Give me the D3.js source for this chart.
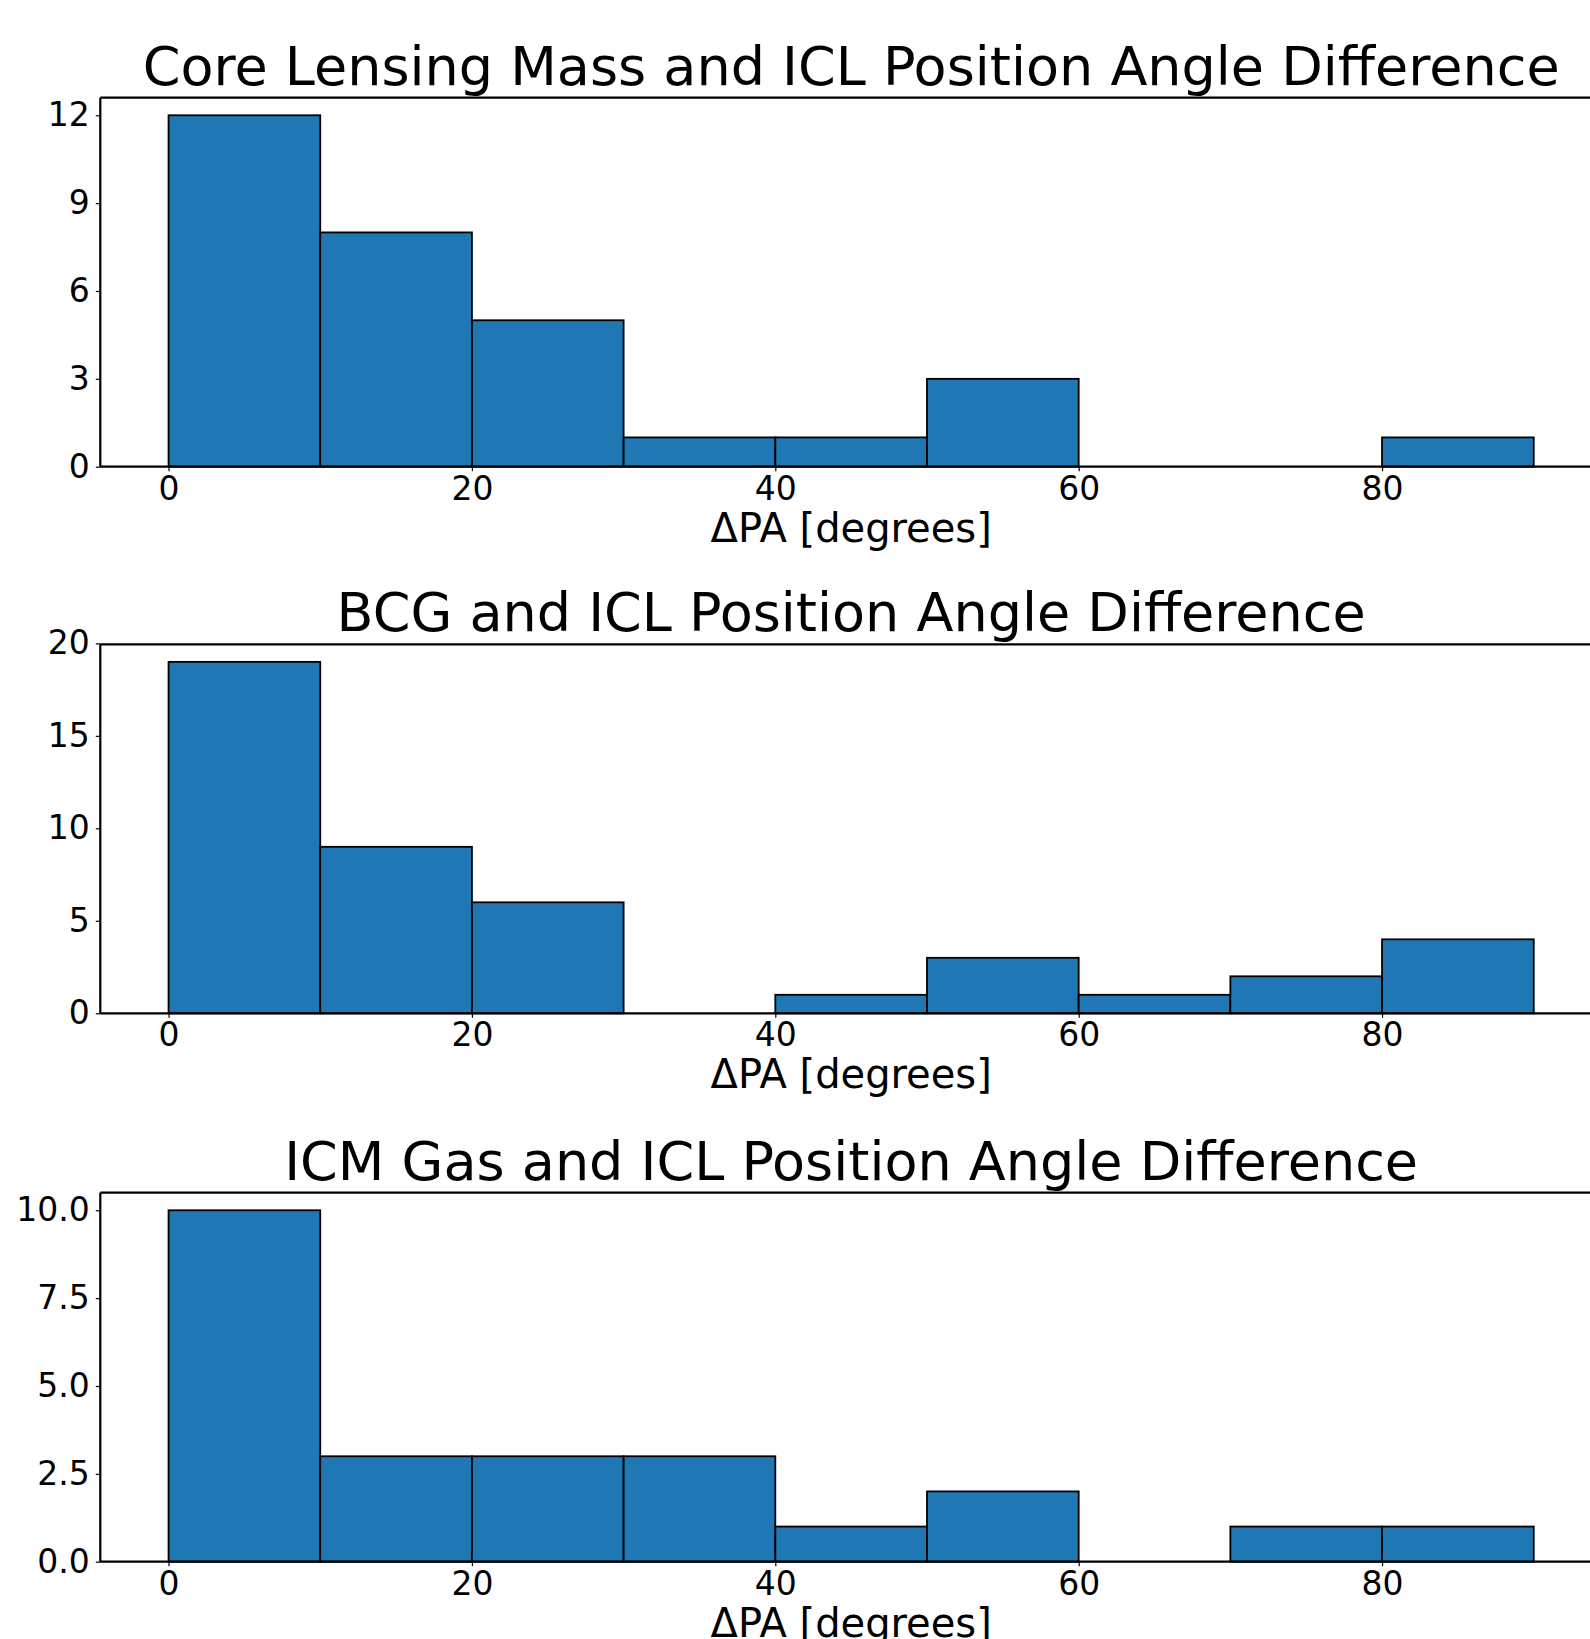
<!DOCTYPE html>
<html>
<head>
<meta charset="utf-8">
<script src="https://cdn.jsdelivr.net/npm/d3@7"></script>
<style>
  html, body { margin: 0; padding: 0; background: #fff; overflow: hidden; }
  svg { display: block; }
  text { font-family: "DejaVu Sans", sans-serif; fill: #000; }
</style>
</head>
<body>
<script>
// Histogram bins of position-angle differences (degrees)
const binEdges = [0, 10, 20, 30, 40, 50, 60, 70, 80, 90];

const titles = [
  "Core Lensing Mass and ICL Position Angle Difference",
  "BCG and ICL Position Angle Difference",
  "ICM Gas and ICL Position Angle Difference"
];

// counts per 10-degree bin
const coreLensingCounts = [12, 8, 5, 1, 1, 3, 0, 0, 1];
const bcgCounts = [19, 9, 6, 0, 1, 3, 1, 2, 4];
const icmGasCounts = [10, 3, 3, 3, 1, 2, 0, 1, 1];

const xTicks = [0, 20, 40, 60, 80];
const yTicksCore = [0, 3, 6, 9, 12];
const yTicksBcg = [0, 5, 10, 15, 20];
const yTicksIcm = [0, 2.5, 5, 7.5, 10];
const yTickFormats = [d3.format("d"), d3.format("d"), d3.format(".1f")];

const xLabel = "ΔPA [degrees]";

const W = 1590, H = 1639;
const svg = d3.select("body").append("svg").attr("width", W).attr("height", H);

const panels = [
  { title: titles[0], counts: coreLensingCounts, yTicks: yTicksCore, top: 97.7 },
  { title: titles[1], counts: bcgCounts, yTicks: yTicksBcg, top: 644.3 },
  { title: titles[2], counts: icmGasCounts, yTicks: yTicksIcm, top: 1192.7 }
];

const plotH = 369;
const left = 100.3, right = 1602;
const fill = "#1f77b4";

panels.forEach((p, i) => {
  const bottom = p.top + plotH;
  const xMin = binEdges[0], xMax = binEdges[binEdges.length - 1];
  const pad = (xMax - xMin) * 0.05;
  const x = d3.scaleLinear().domain([xMin - pad, xMax + pad]).range([left, right]);
  const yMax = d3.max(p.counts) * 1.05;
  const y = d3.scaleLinear().domain([0, yMax]).range([bottom, p.top]);

  const g = svg.append("g");

  const bins = p.counts.map((c, k) => ({ x0: binEdges[k], x1: binEdges[k + 1], n: c }));

  g.selectAll("rect.bar").data(bins.filter(b => b.n > 0)).join("rect")
    .attr("class", "bar")
    .attr("x", d => x(d.x0))
    .attr("width", d => x(d.x1) - x(d.x0))
    .attr("y", d => y(d.n))
    .attr("height", d => y(0) - y(d.n))
    .attr("fill", fill)
    .attr("stroke", "#000")
    .attr("stroke-width", 1.8);

  // x axis
  const xAxis = d3.axisBottom(x).tickValues(xTicks).tickSize(4.5).tickPadding(5).tickFormat(d3.format("d"));
  const gx = g.append("g").attr("transform", `translate(0,${bottom})`).call(xAxis);
  gx.select(".domain").remove();
  gx.selectAll(".tick line").attr("stroke", "#000").attr("stroke-width", 1.2);
  gx.selectAll(".tick text").attr("font-size", 33).style("font-family", "DejaVu Sans");

  // y axis
  const yAxis = d3.axisLeft(y).tickValues(p.yTicks).tickSize(4.5).tickPadding(6).tickFormat(yTickFormats[i]);
  const gy = g.append("g").attr("transform", `translate(${left},0)`).call(yAxis);
  gy.select(".domain").remove();
  gy.selectAll(".tick line").attr("stroke", "#000").attr("stroke-width", 1.2);
  gy.selectAll(".tick text").attr("font-size", 33).style("font-family", "DejaVu Sans");

  // spines
  const sp = g.append("g").attr("stroke", "#000").attr("stroke-width", 2.2).attr("fill", "none");
  sp.append("line").attr("x1", left).attr("x2", right).attr("y1", p.top).attr("y2", p.top);
  sp.append("line").attr("x1", left).attr("x2", right).attr("y1", bottom).attr("y2", bottom);
  sp.append("line").attr("x1", left).attr("x2", left).attr("y1", p.top).attr("y2", bottom);
  sp.append("line").attr("x1", right).attr("x2", right).attr("y1", p.top).attr("y2", bottom);

  const cx = (left + right) / 2;
  g.append("text").attr("x", cx).attr("y", p.top - 13)
    .attr("text-anchor", "middle").attr("font-size", 54).text(p.title);

  g.append("text").attr("x", cx).attr("y", bottom + 75)
    .attr("text-anchor", "middle").attr("font-size", 40).text(xLabel);
});
</script>
</body>
</html>
